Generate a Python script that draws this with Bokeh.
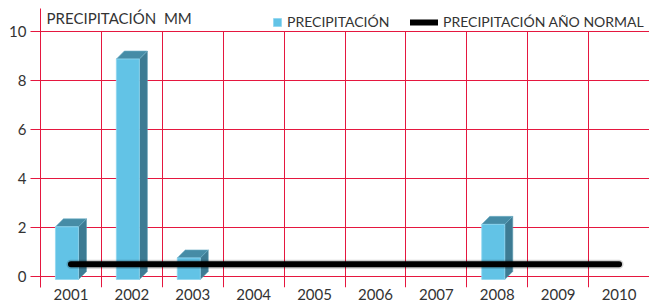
from bokeh.plotting import figure
from bokeh.models import (Range1d, FixedTicker, Label, Legend, LegendItem)
from bokeh.embed import file_html
from bokeh.resources import INLINE

# ---- data ----
years = ["2001", "2002", "2003", "2004", "2005", "2006", "2007", "2008", "2009", "2010"]
precipitacion = [2.15, 9.0, 0.88, 0, 0, 0, 0, 2.25, 0, 0]
precip_normal = [0.5, 0.5, 0.5, 0.5, 0.5, 0.5, 0.5, 0.5, 0.5, 0.5]
y_ticks = [0, 2, 4, 6, 8, 10]

# ---- style ----
FONT = "Lato"
GRID = "#e5173f"
TXT = "#333333"
FRONT = "#62c3e6"
SIDE = "#3d7b93"
TOP = "#468ca6"

W, H = 649, 302
Y0, Y1 = -0.45, 10.94
p = figure(width=W, height=H, x_range=Range1d(0, len(years)), y_range=Range1d(Y0, Y1),
           output_backend="svg", toolbar_location=None,
           min_border_left=40, min_border_right=0, min_border_top=8, min_border_bottom=0)
p.outline_line_color = None
p.background_fill_color = "white"

# pixel-based 3D constants converted to data units
fw_px = (W - 40) / len(years)          # px per category
fh_px = 24.5                           # approx px per unit
bar_w = 23 / fw_px
dx = 8 / fw_px
dy = 8 / fh_px
base = -3 / fh_px

centers = [i + 0.5 for i in range(len(years))]
fl, fr, fb, ft = [], [], [], []
side_xs, side_ys, top_xs, top_ys = [], [], [], []
for c, v in zip(centers, precipitacion):
    if v <= 0:
        continue
    l = c - (bar_w + dx) / 2
    r = l + bar_w
    b = base
    t = base + v
    fl.append(l); fr.append(r); fb.append(b); ft.append(t)
    side_xs.append([r, r + dx, r + dx, r])
    side_ys.append([b, b + dy, t + dy, t])
    top_xs.append([l, l + dx, r + dx, r])
    top_ys.append([t, t + dy, t + dy, t])

p.patches(side_xs, side_ys, fill_color=SIDE, line_color="#5d9ab1", line_width=0.6)
p.patches(top_xs, top_ys, fill_color=TOP, line_color="#6fb0c8", line_width=0.6)
front = p.quad(left=fl, right=fr, bottom=fb, top=ft, fill_color=FRONT,
               line_color="#8fd6f0", line_width=0.8)

# normal line with soft shadow
p.line(centers, precip_normal, line_color="black", line_alpha=0.18, line_width=9, line_cap="round")
normal = p.line(centers, precip_normal, line_color="black", line_width=6, line_cap="round")

# ---- axes ----
xa = p.xaxis[0]
xa.ticker = FixedTicker(ticks=centers)
xa.major_label_overrides = {c: y for c, y in zip(centers, years)}
xa.axis_line_color = None
xa.major_tick_line_color = None
xa.major_tick_out = 0
xa.major_tick_in = 0
xa.minor_tick_line_color = None
xa.major_label_standoff = 1
xa.major_label_text_font = FONT
xa.major_label_text_font_size = "15px"
xa.major_label_text_color = TXT

ya = p.yaxis[0]
ya.ticker = FixedTicker(ticks=y_ticks)
ya.axis_line_color = GRID
ya.major_tick_line_color = GRID
ya.major_tick_out = 10
ya.major_tick_in = 0
ya.minor_tick_line_color = None
ya.major_label_standoff = 4
ya.major_label_text_font = FONT
ya.major_label_text_font_size = "15px"
ya.major_label_text_color = TXT

p.xgrid.ticker = FixedTicker(ticks=list(range(len(years))))
p.xgrid.grid_line_color = GRID
p.ygrid.ticker = FixedTicker(ticks=y_ticks)
p.ygrid.grid_line_color = GRID
try:
    p.xgrid.cross_bounds = (Y0, max(y_ticks))
except Exception:
    pass

# ---- title & legends ----
p.add_layout(Label(x=0.1, y=10.55, text="PRECIPITACIÓN\u00a0 MM", text_font=FONT,
                   text_font_size="15px", text_color=TXT, text_baseline="middle"))

def mk_legend(item_label, rend, loc, gw, gh):
    lg = Legend(items=[LegendItem(label=item_label, renderers=[rend])], location=loc,
                orientation="horizontal", glyph_width=gw, glyph_height=gh,
                label_standoff=5, label_text_font=FONT, label_text_font_size="14px",
                label_text_color=TXT, padding=0, margin=0, spacing=0,
                border_line_color=None, background_fill_alpha=0, label_height=14)
    p.add_layout(lg, "center")

mk_legend("PRECIPITACIÓN", front, (232, 257), 10, 10)
mk_legend("PRECIPITACIÓN AÑO NORMAL", normal, (370, 257), 28, 14)

open("out.html", "w").write(file_html(p, INLINE))
